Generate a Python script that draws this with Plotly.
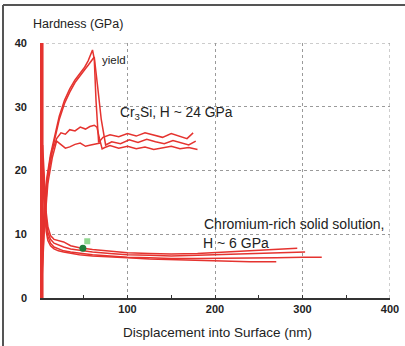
import plotly.graph_objects as go

# ---- data ----
# Cr3Si indents
cr3si_a_x = [1, 3, 5, 8, 12, 17, 22, 28, 34, 40, 46, 51, 55, 58, 60, 62, 64, 67, 72, 80, 90, 100, 110, 120, 130, 140, 150, 160, 168, 175]
cr3si_a_y = [2, 9, 15, 19, 22.5, 25.5, 28.5, 31, 32.8, 34.2, 35.3, 36.2, 37.2, 38.2, 38.9, 37.5, 31, 24.4, 25.2, 25.6, 25.3, 25.8, 25.4, 25.9, 25.5, 25.2, 25.8, 25.4, 25.0, 25.9]
cr3si_b_x = [1, 3, 5, 8, 12, 17, 22, 28, 34, 40, 46, 51, 55, 59, 62, 66, 70, 75, 82, 92, 102, 112, 122, 132, 142, 152, 162, 170, 178]
cr3si_b_y = [1, 8, 14, 18.5, 22, 25, 28, 30.5, 32.3, 33.8, 35.0, 35.8, 36.5, 37.3, 37.8, 33, 28, 24.0, 24.5, 24.2, 24.8, 24.4, 24.9, 24.5, 24.2, 24.7, 24.3, 24.0, 24.6]
cr3si_c_x = [2, 5, 9, 14, 19, 24, 29, 34, 40, 46, 52, 57, 62, 65, 68, 71, 74, 80, 90, 100, 110, 120, 130, 140, 150, 160, 170, 180]
cr3si_c_y = [3, 12, 19, 23, 25, 25.9, 25.7, 26.4, 26.2, 26.8, 26.5, 26.9, 27.1, 26.8, 25, 23.4, 23.6, 23.9, 23.5, 23.8, 23.4, 23.7, 23.3, 23.6, 23.8, 23.4, 23.6, 23.3]
cr3si_d_x = [2, 5, 9, 14, 19, 24, 29, 34, 40, 46, 52, 58, 64, 69]
cr3si_d_y = [2, 11, 18, 22, 24.6, 24.0, 23.5, 23.7, 24.1, 24.3, 23.8, 24.0, 24.2, 24.3]

# Chromium-rich solid solution indents
crss_a_x = [3, 5, 7, 9, 12, 16, 21, 27, 35, 45, 60, 80, 100, 125, 150, 180, 210, 240, 270, 294]
crss_a_y = [24, 18, 13.5, 11.2, 9.8, 9.2, 9.0, 8.8, 8.2, 7.9, 7.6, 7.3, 7.1, 7.0, 6.9, 7.0, 7.2, 7.4, 7.6, 7.8]
crss_b_x = [3, 5, 7, 9, 12, 16, 21, 27, 35, 45, 60, 80, 100, 125, 150, 180, 210, 240, 270, 303]
crss_b_y = [22, 16, 12.5, 10.3, 9.2, 8.6, 8.3, 8.0, 7.7, 7.5, 7.2, 7.0, 6.8, 6.7, 6.6, 6.7, 6.8, 6.9, 7.0, 7.2]
crss_c_x = [3, 5, 7, 9, 12, 16, 21, 27, 35, 45, 60, 80, 100, 125, 150, 180, 210, 240, 270, 300, 322]
crss_c_y = [20, 15, 11.5, 9.7, 8.6, 8.0, 7.7, 7.4, 7.2, 7.0, 6.8, 6.6, 6.4, 6.3, 6.2, 6.2, 6.2, 6.3, 6.3, 6.4, 6.4]
crss_d_x = [3, 5, 7, 9, 12, 16, 21, 27, 35, 45, 60, 80, 100, 125, 150, 180, 210, 240, 270]
crss_d_y = [18, 13.5, 10.5, 9.0, 8.2, 7.7, 7.4, 7.2, 7.0, 6.8, 6.6, 6.4, 6.3, 6.1, 6.0, 5.9, 5.8, 5.7, 5.7]

marker_x = [49]
marker_y = [7.8]
tag_x = [54]
tag_y = [8.9]

x_ticks = [100, 200, 300, 400]
x_minor = [50, 150, 250, 350]
y_ticks = [0, 10, 20, 30, 40]
y_minor = [5, 15, 25, 35]

RED = "#e5332f"
W, H = 405, 346
ML, MT = 3, 5                     # paper starts at the outer frame
PW, PH = W - ML, H - MT
PLOT_L, PLOT_R, PLOT_T, PLOT_B = 40, 390, 43, 298


def px(xp):
    return (xp - ML) / PW


def py(yp):
    return (H - yp) / PH


fig = go.Figure()

for xs, ys in [(cr3si_a_x, cr3si_a_y), (cr3si_b_x, cr3si_b_y), (cr3si_c_x, cr3si_c_y), (cr3si_d_x, cr3si_d_y),
               (crss_a_x, crss_a_y), (crss_b_x, crss_b_y), (crss_c_x, crss_c_y), (crss_d_x, crss_d_y)]:
    fig.add_trace(go.Scatter(x=xs, y=ys, mode="lines",
                             line=dict(color=RED, width=1.5),
                             hoverinfo="skip", showlegend=False))

fig.add_trace(go.Scatter(x=tag_x, y=tag_y, mode="markers",
                         marker=dict(symbol="square", size=6, color="#8fd68f"),
                         showlegend=False))
fig.add_trace(go.Scatter(x=marker_x, y=marker_y, mode="markers",
                         marker=dict(symbol="circle", size=7, color="#1e7d3a"),
                         showlegend=False))

# dotted right and top edges of the plot
fig.add_shape(type="line", x0=400, x1=400, y0=0, y1=40, xref="x", yref="y",
              line=dict(color="#9a9a9a", width=1, dash="dot"), layer="below")
fig.add_shape(type="line", x0=0, x1=400, y0=40, y1=40, xref="x", yref="y",
              line=dict(color="#9a9a9a", width=1, dash="dot"), layer="below")

# red vertical axis line
fig.add_shape(type="line", x0=1.5, x1=1.5, y0=0, y1=40, xref="x", yref="y",
              line=dict(color=RED, width=4.5))

# outer frame (left and top only)
fig.add_shape(type="line", xref="paper", yref="paper", x0=0, x1=1, y0=1, y1=1,
              line=dict(color="#555", width=2))
fig.add_shape(type="line", xref="paper", yref="paper", x0=0, x1=0, y0=0, y1=1,
              line=dict(color="#555", width=2))

font_txt = dict(family="Liberation Sans, Arial, sans-serif", color="#222222")

fig.add_annotation(x=px(31), y=py(24), xref="paper", yref="paper", xanchor="left", yanchor="middle",
                   text="Hardness (GPa)", showarrow=False, font=dict(size=12.5, **font_txt))
fig.add_annotation(x=px(218), y=py(332), xref="paper", yref="paper", xanchor="center", yanchor="middle",
                   text="Displacement into Surface (nm)", showarrow=False, font=dict(size=13.5, **font_txt))
fig.add_annotation(x=68, y=37.4, xref="x", yref="y", xanchor="left", yanchor="middle",
                   text="yield", showarrow=False, font=dict(size=11.5, **font_txt))
fig.add_annotation(x=89, y=28.9, xref="x", yref="y", xanchor="left", yanchor="middle",
                   text="Cr<sub>3</sub>Si, H ~ 24 GPa", showarrow=False, font=dict(size=13.8, **font_txt))
fig.add_annotation(x=185, y=11.6, xref="x", yref="y", xanchor="left", yanchor="middle",
                   text="Chromium-rich solid solution,", showarrow=False, font=dict(size=14, **font_txt))
fig.add_annotation(x=184, y=8.7, xref="x", yref="y", xanchor="left", yanchor="middle",
                   text="H ~ 6 GPa", showarrow=False, font=dict(size=14, **font_txt))

fig.update_xaxes(domain=[px(PLOT_L), px(PLOT_R)], range=[0, 400], automargin=False,
                 tickvals=x_ticks, ticktext=[f"<b>{v}</b>" for v in x_ticks],
                 showgrid=True, gridcolor="#9a9a9a", griddash="dot", gridwidth=1,
                 showline=True, linecolor="#333", linewidth=2,
                 ticks="inside", ticklen=3, tickcolor="#333",
                 minor=dict(tickvals=x_minor, ticks="inside", ticklen=3, tickcolor="#333", showgrid=False),
                 zeroline=False, tickfont=dict(size=11, **font_txt))
fig.update_yaxes(domain=[py(PLOT_B), py(PLOT_T)], range=[0, 40], automargin=False,
                 tickvals=y_ticks, ticktext=[f"<b>{v}</b>" for v in y_ticks],
                 showgrid=True, gridcolor="#9a9a9a", griddash="dot", gridwidth=1,
                 showline=False, zeroline=False, ticks="", ticklabelstandoff=12,
                 minor=dict(tickvals=y_minor, ticks="inside", ticklen=3, tickcolor="#333"),
                 tickfont=dict(size=11, **font_txt))

fig.update_layout(width=W, height=H, margin=dict(l=ML, r=0, t=MT, b=0, pad=0),
                  plot_bgcolor="white", paper_bgcolor="white", showlegend=False)

fig.write_html("out.html", config={"displayModeBar": False},
               post_script="document.body.style.margin='0';")
